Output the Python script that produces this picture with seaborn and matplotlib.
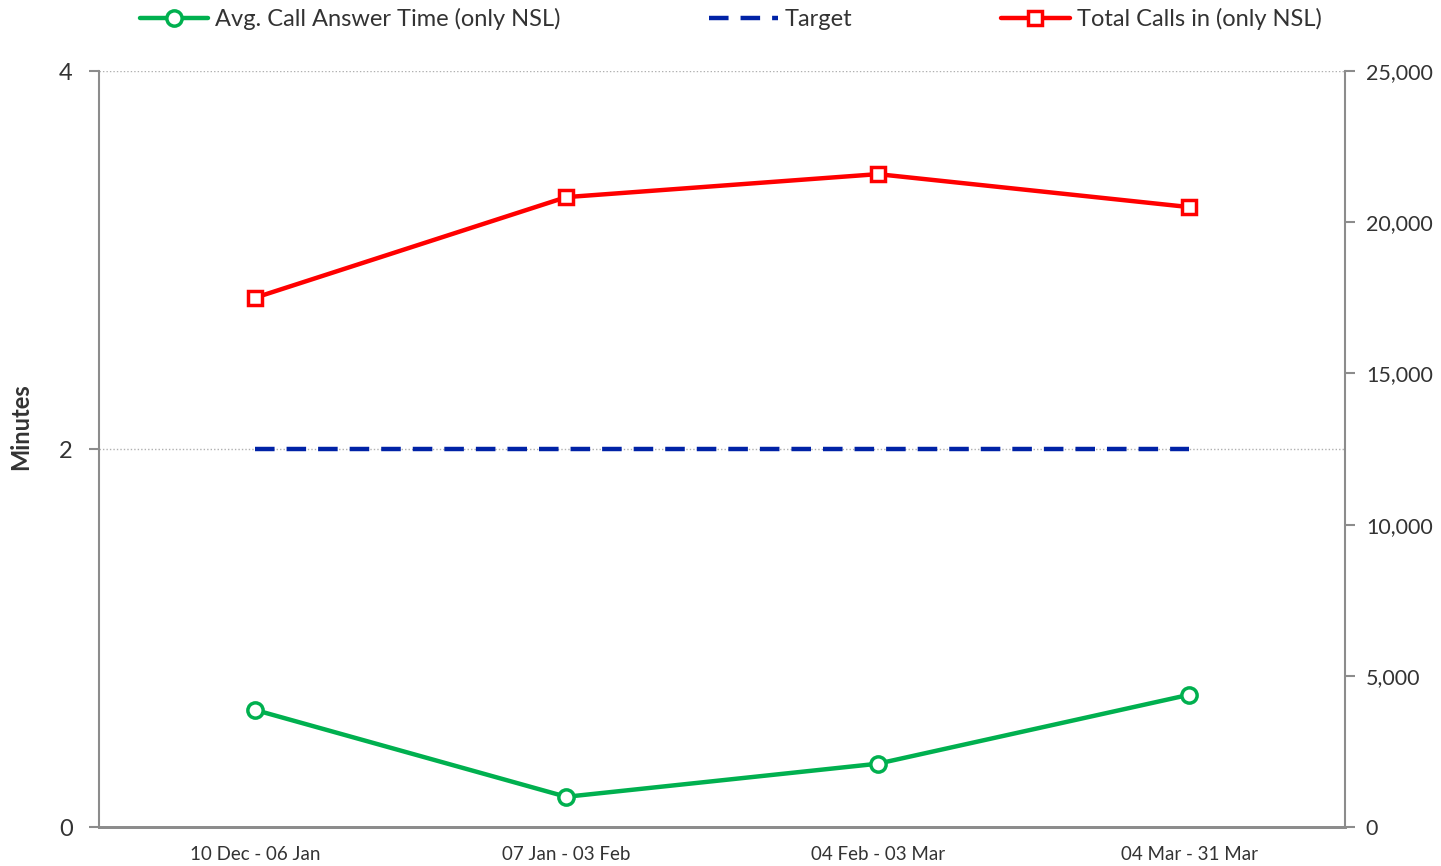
import pandas as pd
import matplotlib.pyplot as plt
import seaborn as sns
from matplotlib.ticker import FuncFormatter, FixedLocator

# Werte
periods = ['10 Dec - 06 Jan', '07 Jan - 03 Feb', '04 Feb - 03 Mar', '04 Mar - 31 Mar']
answer_time = [0.62, 0.16, 0.335, 0.70]
target = [2, 2, 2, 2]
total_calls = [17500, 20830, 21590, 20500]

df = pd.DataFrame({'period': periods, 'answer': answer_time,
                   'target': target, 'calls': total_calls})
df['x'] = range(len(df))

sns.set_style('white')
plt.rcParams['font.family'] = ['Lato', 'DejaVu Sans']

fig = plt.figure(figsize=(14.41, 8.66), dpi=100)
ax = fig.add_axes([0.0687, 0.045, 0.8647, 0.873])
ax2 = ax.twinx()

green = '#00B04F'
red = '#FF0000'
navy = '#0022A6'
grey = '#8C8C8C'

sns.lineplot(data=df, x='x', y='target', ax=ax, color=navy, linewidth=3.2,
             label='Target', legend=False)
ax.lines[-1].set_dashes([4.4, 2.7])
sns.lineplot(data=df, x='x', y='answer', ax=ax, color=green, linewidth=3.2,
             marker='o', markersize=11, markerfacecolor='white',
             markeredgecolor=green, markeredgewidth=2.5,
             label='Avg. Call Answer Time (only NSL)', legend=False)
sns.lineplot(data=df, x='x', y='calls', ax=ax2, color=red, linewidth=3.2,
             marker='s', markersize=10, markerfacecolor='white',
             markeredgecolor=red, markeredgewidth=2.5,
             label='Total Calls in (only NSL)', legend=False)

ax.set_xlim(-0.5, 3.5)
ax.set_ylim(0, 4)
ax2.set_ylim(0, 25000)
ax.set_yticks([0, 2, 4])
ax2.set_yticks(range(0, 25001, 5000))
ax2.yaxis.set_major_formatter(FuncFormatter(lambda v, p: f'{int(v):,}'))

ax.set_xticks(df['x'])
ax.set_xticklabels(periods)
ax.xaxis.set_minor_locator(FixedLocator([-0.5, 0.5, 1.5, 2.5, 3.5]))
ax.tick_params(axis='x', which='major', length=0, pad=14, labelsize=13.5, colors='#333333')
ax.tick_params(axis='x', which='minor', length=6, width=1.5, color=grey, direction='out')
ax.tick_params(axis='y', length=7, width=1.5, color=grey, direction='out', labelsize=17,
               labelcolor='#333333', pad=12)
ax2.tick_params(axis='y', length=7, width=1.5, color=grey, direction='out', labelsize=15.5,
                labelcolor='#333333', pad=8)

ax.yaxis.grid(True, linestyle=(0, (1, 1.5)), color='#B0B0B0', linewidth=1)
ax.set_xlabel('')
ax.set_ylabel('Minutes', fontsize=17, fontweight='bold', color='#333333')
ax.yaxis.set_label_coords(-0.054, 0.53)
ax2.set_ylabel('')

for a in (ax, ax2):
    for s in a.spines.values():
        s.set_visible(False)
    a.spines['bottom'].set_visible(True)
    a.spines['bottom'].set_color(grey)
    a.spines['bottom'].set_linewidth(2)
ax.spines['left'].set_visible(True)
ax.spines['left'].set_color(grey)
ax.spines['left'].set_linewidth(1.5)
ax2.spines['right'].set_visible(True)
ax2.spines['right'].set_color(grey)
ax2.spines['right'].set_linewidth(1.5)

h1, l1 = ax.get_legend_handles_labels()
h2, l2 = ax2.get_legend_handles_labels()
handles = [h1[1], h1[0], h2[0]]
labels = [l1[1], l1[0], l2[0]]
fig.legend(handles, labels, loc='upper center', bbox_to_anchor=(0.507, 1.015), ncol=3,
           frameon=False, fontsize=17, columnspacing=6.3, handlelength=2.9,
           handletextpad=0.3, labelcolor='#333333')

fig.savefig('out.png', dpi=100)
